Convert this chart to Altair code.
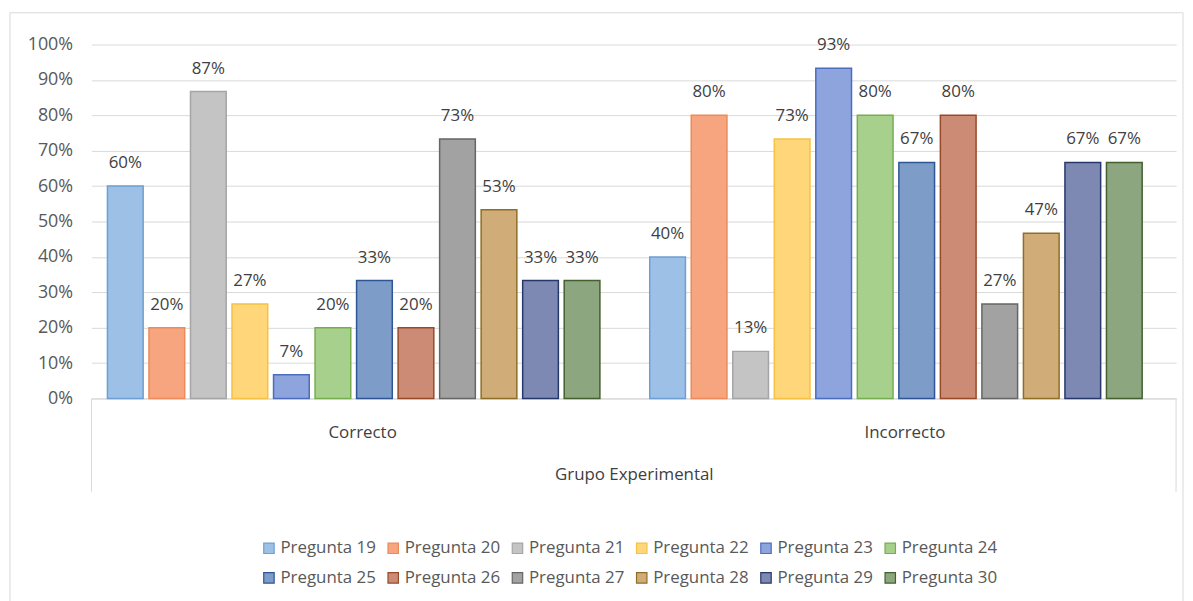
import altair as alt
import pandas as pd

grupos = ["Correcto", "Incorrecto"]
preguntas = [f"Pregunta {n}" for n in range(19, 31)]
correcto = [0.600, 0.200, 0.867, 0.267, 0.067, 0.200, 0.333, 0.200, 0.733, 0.533, 0.333, 0.333]
incorrecto = [0.400, 0.800, 0.133, 0.733, 0.933, 0.800, 0.667, 0.800, 0.267, 0.467, 0.667, 0.667]
y_ticks = [0.0, 0.1, 0.2, 0.3, 0.4, 0.5, 0.6, 0.7, 0.8, 0.9, 1.0]
fills = ["#9DC0E6", "#F7A57E", "#C4C4C4", "#FFD67A", "#8EA4DD", "#A8D08D",
         "#7E9CC8", "#CC8B74", "#A2A2A2", "#CFAC78", "#7E89B3", "#8CA67F"]
strokes = ["#6E9FD4", "#EC8A5C", "#A5A5A5", "#F5C242", "#4C6CC0", "#75AE4F",
           "#2F5597", "#974A2A", "#666666", "#8F6F25", "#26386A", "#43602E"]

rows = []
for g, vals in zip(grupos, [correcto, incorrecto]):
    for p, v in zip(preguntas, vals):
        rows.append({"grupo": g, "pregunta": p, "valor": v})
df = pd.DataFrame(rows)

FONT = "Open Sans"
FS = 17
W, H = 1091, 356

x_enc = alt.X("grupo:N", sort=grupos, title="Grupo Experimental",
              scale=alt.Scale(paddingInner=0, paddingOuter=0),
              axis=alt.Axis(labelAngle=0, ticks=False, tickSize=0, domain=True,
                            domainColor="#D9D9D9", labelPadding=26,
                            labelFontSize=FS, labelColor="#404040", labelFont=FONT,
                            titleFontSize=FS, titleColor="#404040", titleFont=FONT,
                            titleFontWeight="normal", titlePadding=27))
xo_enc = alt.XOffset("pregunta:N", sort=preguntas,
                     scale=alt.Scale(paddingInner=0.14, paddingOuter=0.6, align=0.32))
y_enc = alt.Y("valor:Q", title=None,
              scale=alt.Scale(domain=[0, 1], nice=False),
              axis=alt.Axis(values=y_ticks, format=".0%", labelOverlap=False,
                            ticks=False, tickSize=0, domain=False, grid=True,
                            gridColor="#D9D9D9", labelPadding=19,
                            labelFontSize=18, labelColor="#595959", labelFont=FONT))

bars = alt.Chart(df).mark_bar(strokeWidth=1.5).encode(
    x=x_enc, xOffset=xo_enc, y=y_enc,
    fill=alt.Fill("pregunta:N", sort=preguntas,
                  scale=alt.Scale(domain=preguntas, range=fills),
                  legend=alt.Legend(title=None, orient="none", legendX=170, legendY=498,
                                    direction="horizontal",
                                    columns=6, symbolType="square", symbolSize=110,
                                    symbolStrokeWidth=1.2, labelFontSize=FS,
                                    labelFont=FONT, labelColor="#595959",
                                    labelOffset=3, columnPadding=8, rowPadding=12,
                                    labelLimit=200)),
    stroke=alt.Stroke("pregunta:N", sort=preguntas,
                      scale=alt.Scale(domain=preguntas, range=strokes)),
)

labels = alt.Chart(df).mark_text(baseline="middle", dy=-23, fontSize=FS,
                                 font=FONT, color="#404040").encode(
    x=x_enc, xOffset=xo_enc, y=y_enc,
    text=alt.Text("valor:Q", format=".0%"),
)

deco = pd.DataFrame({"k": [0]})
left_line = alt.Chart(deco).mark_rule(color="#D9D9D9", strokeWidth=1).encode(
    x=alt.value(0), y=alt.value(H), y2=alt.value(H + 94))
right_line = alt.Chart(deco).mark_rule(color="#D9D9D9", strokeWidth=1).encode(
    x=alt.value(W), y=alt.value(H), y2=alt.value(H + 94))
frame = alt.Chart(deco).mark_rect(fill=None, stroke="#D9D9D9", strokeWidth=1,
                                  clip=False).encode(
    x=alt.value(-82), x2=alt.value(1098), y=alt.value(-32), y2=alt.value(640))

chart = alt.layer(frame, bars, labels, left_line, right_line).properties(
    width=W, height=H,
    autosize=alt.AutoSizeParams(type="none"),
    padding={"left": 84, "top": 35, "right": 9, "bottom": 202},
).configure_view(stroke=None)

chart.save("out.html", embed_options={"renderer": "svg", "actions": False})
